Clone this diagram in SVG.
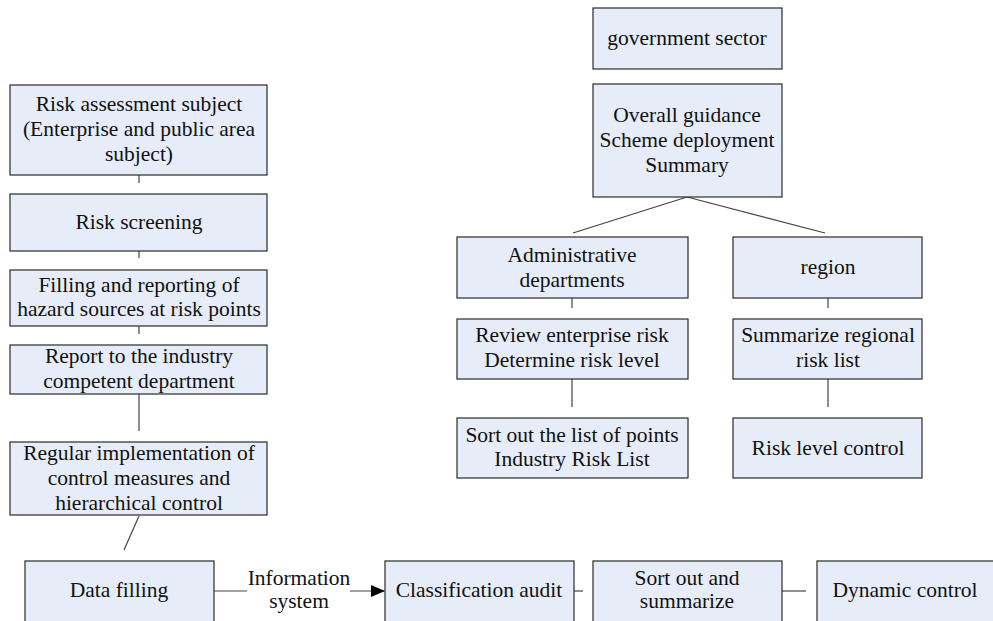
<svg xmlns="http://www.w3.org/2000/svg" width="993" height="621" viewBox="0 0 993 621">
<style>
.box{fill:#e7edf8;stroke:#2a2a2a;stroke-width:1.2}
.t{font-family:"Liberation Serif","Times New Roman",serif;font-size:21.5px;fill:#111;text-anchor:middle}
.c{stroke:#444;stroke-width:1.2;fill:none}
</style>
<defs>
<marker id="arr" markerWidth="14" markerHeight="12" refX="13" refY="6" orient="auto" markerUnits="userSpaceOnUse">
<path d="M0,0 L14,6 L0,12 Z" fill="#000"/>
</marker>
</defs>
<rect width="993" height="621" fill="#fff"/>
<g id="connectors">
<line class="c" x1="139" y1="175" x2="139" y2="183"/>
<line class="c" x1="139" y1="251" x2="139" y2="258"/>
<line class="c" x1="139" y1="326" x2="139" y2="334"/>
<line class="c" x1="139" y1="394" x2="139" y2="431"/>
<line class="c" x1="139" y1="516" x2="124" y2="550"/>
<line class="c" x1="214" y1="591" x2="247" y2="591"/>
<line class="c" x1="350" y1="591" x2="384" y2="591" marker-end="url(#arr)"/>
<line class="c" x1="574" y1="591" x2="583" y2="591"/>
<line class="c" x1="782" y1="591" x2="806" y2="591"/>
<line class="c" x1="687" y1="197" x2="573" y2="233"/>
<line class="c" x1="687" y1="197" x2="825" y2="233"/>
<line class="c" x1="572" y1="298" x2="572" y2="308"/>
<line class="c" x1="572" y1="379" x2="572" y2="407"/>
<line class="c" x1="828" y1="298" x2="828" y2="308"/>
<line class="c" x1="828" y1="379" x2="828" y2="407"/>
<text class="t" x="299" y="585">Information</text>
<text class="t" x="299" y="608">system</text>
</g>
<g id="n1"><rect class="box" x="10" y="85" width="257" height="90"/>
<text class="t" x="139" y="111">Risk assessment subject</text>
<text class="t" x="139" y="136">(Enterprise and public area</text>
<text class="t" x="139" y="161">subject)</text></g>
<g id="n2"><rect class="box" x="10" y="194" width="257" height="57"/>
<text class="t" x="139" y="229">Risk screening</text></g>
<g id="n3"><rect class="box" x="10" y="270" width="257" height="56"/>
<text class="t" x="139" y="292">Filling and reporting of</text>
<text class="t" x="139" y="316">hazard sources at risk points</text></g>
<g id="n4"><rect class="box" x="10" y="345" width="257" height="49"/>
<text class="t" x="139" y="363">Report to the industry</text>
<text class="t" x="139" y="388">competent department</text></g>
<g id="n5"><rect class="box" x="10" y="442" width="257" height="73"/>
<text class="t" x="139" y="460">Regular implementation of</text>
<text class="t" x="139" y="485">control measures and</text>
<text class="t" x="139" y="510">hierarchical control</text></g>
<g id="n6"><rect class="box" x="25" y="561" width="189" height="66"/>
<text class="t" x="119" y="597">Data filling</text></g>
<g id="n7"><rect class="box" x="385" y="561" width="189" height="66"/>
<text class="t" x="479" y="597">Classification audit</text></g>
<g id="n8"><rect class="box" x="593" y="561" width="189" height="66"/>
<text class="t" x="687" y="585">Sort out and</text>
<text class="t" x="687" y="608">summarize</text></g>
<g id="n9"><rect class="box" x="817" y="561" width="180" height="66"/>
<text class="t" x="905" y="597">Dynamic control</text></g>
<g id="n10"><rect class="box" x="593" y="8" width="189" height="61"/>
<text class="t" x="687" y="45">government sector</text></g>
<g id="n11"><rect class="box" x="593" y="84" width="189" height="113"/>
<text class="t" x="687" y="122">Overall guidance</text>
<text class="t" x="687" y="147">Scheme deployment</text>
<text class="t" x="687" y="172">Summary</text></g>
<g id="n12"><rect class="box" x="457" y="237" width="231" height="61"/>
<text class="t" x="572" y="262">Administrative</text>
<text class="t" x="572" y="287">departments</text></g>
<g id="n13"><rect class="box" x="733" y="237" width="189" height="61"/>
<text class="t" x="828" y="274">region</text></g>
<g id="n14"><rect class="box" x="457" y="319" width="231" height="60"/>
<text class="t" x="572" y="342">Review enterprise risk</text>
<text class="t" x="572" y="367">Determine risk level</text></g>
<g id="n15"><rect class="box" x="733" y="319" width="189" height="60"/>
<text class="t" x="828" y="342">Summarize regional</text>
<text class="t" x="828" y="367">risk list</text></g>
<g id="n16"><rect class="box" x="457" y="418" width="231" height="60"/>
<text class="t" x="572" y="442">Sort out the list of points</text>
<text class="t" x="572" y="466">Industry Risk List</text></g>
<g id="n17"><rect class="box" x="733" y="418" width="189" height="60"/>
<text class="t" x="828" y="455">Risk level control</text></g>
</svg>
